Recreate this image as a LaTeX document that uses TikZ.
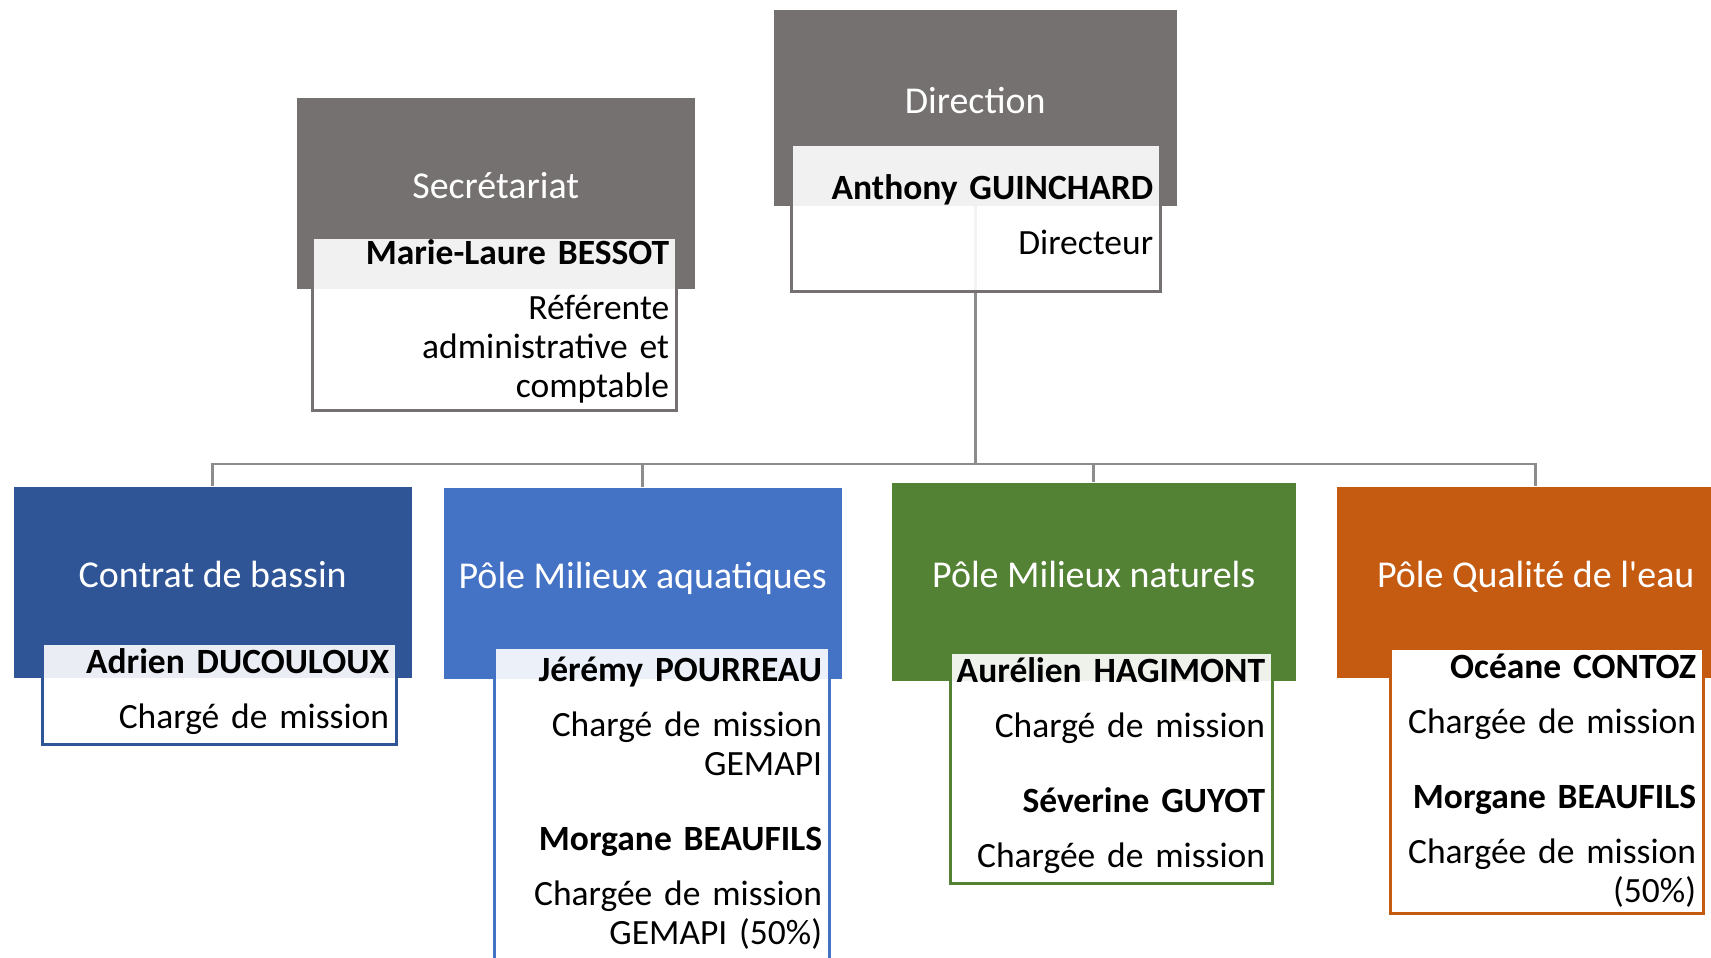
\documentclass[tikz,border=0pt]{standalone}
\usepackage{fontspec}
\newfontfamily\carlito{Carlito}
\usepackage{tikz}
\newcommand{\nom}[1]{\textbf{#1}}
\newcommand{\cdm}{Chargé de mission}
\newcommand{\cdme}{Chargée de mission}
\definecolor{gris}{RGB}{118,113,113}
\definecolor{bleufonce}{RGB}{47,85,151}
\definecolor{bleu}{RGB}{68,114,196}
\definecolor{vert}{RGB}{84,130,53}
\definecolor{orangeeau}{RGB}{197,90,17}
\definecolor{trait}{RGB}{140,140,140}

\begin{document}
\begin{tikzpicture}[
    pole/.style={fill=#1,anchor=north west,minimum width=3.98cm,minimum height=1.91cm,inner sep=0pt,
      text=white,font=\carlito\fontsize{10.8}{13}\selectfont,text height=7pt,text depth=3.8pt},
    fiche/.style={draw=#1,line width=0.8pt,fill=white,fill opacity=0.9,anchor=north west,inner sep=0pt},
    texte/.style={anchor=base east,text width=3.4cm,align=right,inner sep=0pt,
      font=\carlito\fontsize{10.1}{11.1}\selectfont},
    lien/.style={draw=trait,line width=0.8pt}
  ]
  \clip (0,0) rectangle (17.11,-9.58);
  \node [pole=gris] (sec) at (2.96,-0.97) {Secrétariat};
  \node [pole=gris,minimum width=4.03cm,minimum height=1.96cm] (dir) at (7.73,-0.09) {Direction};
  \node [pole=bleufonce] (cb) at (0.13,-4.86) {Contrat de bassin};
  \node [pole=bleu] (aq) at (4.43,-4.87) {Pôle Milieux aquatiques};
  \node [pole=vert,minimum width=4.04cm,minimum height=1.98cm] (nat) at (8.91,-4.82) {Pôle Milieux naturels};
  \node [pole=orangeeau] (qual) at (13.36,-4.86) {Pôle Qualité de l'eau};

  \coordinate (bus) at (dir.south |- 0,-4.64);
  \draw[lien] (dir.south) -- (bus);
  \draw[lien] (bus) -| (cb.north);
  \draw[lien] (bus) -| (aq.north);
  \draw[lien] (bus) -| (nat.north);
  \draw[lien] (bus) -| (qual.north);

  \node [fiche=gris,minimum width=3.64cm,minimum height=1.73cm] (ml) at (3.11,-2.36) {};
  \node [fiche=gris,minimum width=3.69cm,minimum height=1.47cm] (ag) at (7.90,-1.43) {};
  \node [fiche=bleufonce,minimum width=3.54cm,minimum height=1.01cm] (ad) at (0.41,-6.42) {};
  \node [fiche=bleu,minimum width=3.35cm,minimum height=3.6cm] (jp) at (4.93,-6.46) {};
  \node [fiche=vert,minimum width=3.22cm,minimum height=2.31cm] (ah) at (9.49,-6.51) {};
  \node [fiche=orangeeau,fill opacity=1,minimum width=3.13cm,minimum height=2.65cm] (oc) at (13.89,-6.47) {};

  \node [texte] (mlt) at ([xshift=-0.08cm,yshift=-0.28cm]ml.north east)
    {\nom{Marie-Laure BESSOT}\\[4.8pt] Référente\\ administrative et\\ comptable};
  \node [texte] (agt) at ([xshift=-0.08cm,yshift=-0.56cm]ag.north east)
    {\nom{Anthony GUINCHARD}\\[4.8pt] Directeur};
  \node [texte] (adt) at ([xshift=-0.08cm,yshift=-0.31cm]ad.north east)
    {\nom{Adrien DUCOULOUX}\\[4.8pt] \cdm};
  \node [texte] (jpt) at ([xshift=-0.08cm,yshift=-0.35cm]jp.north east)
    {\nom{Jérémy POURREAU}\\[4.8pt] \cdm\\ GEMAPI\\[10pt] \nom{Morgane BEAUFILS}\\[4.8pt] \cdme\\ GEMAPI (50\%)};
  \node [texte] (aht) at ([xshift=-0.08cm,yshift=-0.31cm]ah.north east)
    {\nom{Aurélien HAGIMONT}\\[4.8pt] \cdm\\[10pt] \nom{Séverine GUYOT}\\[4.8pt] \cdme};
  \node [texte] (oct) at ([xshift=-0.08cm,yshift=-0.31cm]oc.north east)
    {\nom{Océane CONTOZ}\\[4.8pt] \cdme\\[10pt] \nom{Morgane BEAUFILS}\\[4.8pt] \cdme\\ (50\%)};
\end{tikzpicture}
\end{document}
